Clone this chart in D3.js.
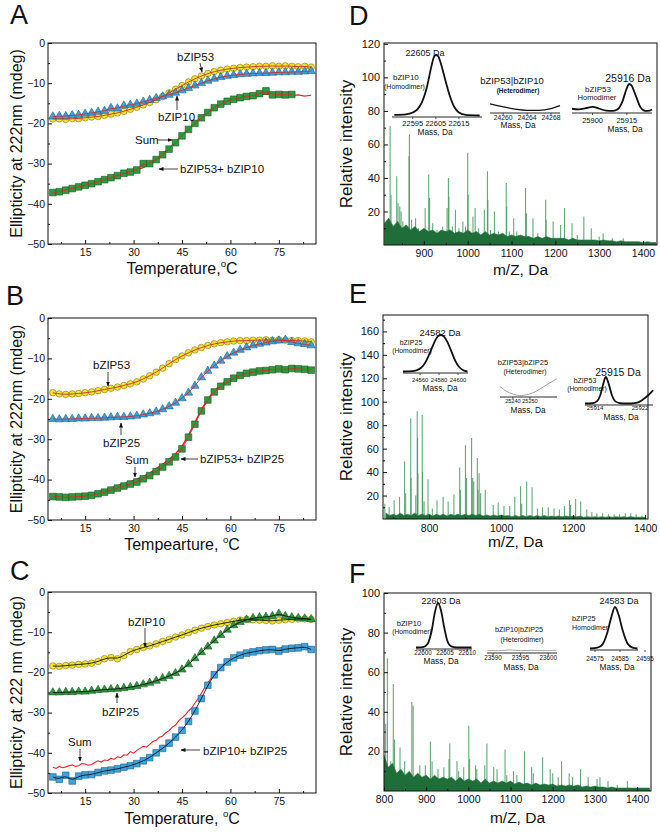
<!DOCTYPE html>
<html><head><meta charset="utf-8">
<script src="https://cdn.jsdelivr.net/npm/d3@7"></script>
<style>body{margin:0;background:#fff;} text{font-family:"Liberation Sans",Arial,Helvetica,sans-serif;}</style>
</head><body><script>
// ---------------- CD data (temperature, °C ; ellipticity, mdeg) ----------------
const TEMPS = [5,7,9,11,13,15,17,19,21,23,25,27,29,31,33,35,37,39,41,43,45,47,49,51,53,55,57,59,61,63,65,67,69,71,73,75,77,79,81,83,85];
const TEMPS1 = [5,6,7,8,9,10,11,12,13,14,15,16,17,18,19,20,21,22,23,24,25,26,27,28,29,30,31,32,33,34,35,36,37,38,39,40,41,42,43,44,45,46,47,48,49,50,51,52,53,54,55,56,57,58,59,60,61,62,63,64,65,66,67,68,69,70,71,72,73,74,75,76,77,78,79,80,81,82,83,84,85];
const CD_XTICKS = [15,30,45,60,75];
const CD_XMINOR = [7.5,22.5,37.5,52.5,67.5,82.5];
const CD_YTICKS = [0,-10,-20,-30,-40,-50];
const CD_YMINOR = [-5,-15,-25,-35,-45];

const A_bZIP53 = [-18.9,-18.9,-19.0,-18.8,-18.8,-18.6,-18.4,-18.3,-18.0,-17.7,-17.4,-17.0,-16.5,-16.0,-15.4,-14.8,-14.1,-13.3,-12.4,-11.5,-10.6,-9.7,-8.9,-8.2,-7.6,-7.1,-6.8,-6.5,-6.3,-6.1,-6.0,-5.9,-5.8,-5.8,-5.7,-5.8,-5.7,-5.8,-5.9,-5.8,-6.0];
const A_bZIP10 = [-18.3,-18.2,-18.2,-18.0,-17.9,-17.6,-17.4,-17.1,-16.9,-16.2,-16.3,-15.6,-15.4,-15.1,-14.6,-14.2,-13.7,-13.3,-12.9,-12.4,-11.8,-11.2,-10.6,-10.0,-9.4,-8.9,-8.5,-8.2,-8.0,-7.8,-7.7,-7.6,-7.5,-7.5,-7.4,-7.3,-7.3,-7.2,-7.2,-7.1,-7.0];
const A_mix = [-37.2,-37.0,-36.6,-36.2,-35.8,-35.4,-35.0,-34.5,-34.0,-33.5,-33.0,-32.4,-32.1,-31.6,-30.0,-30.0,-29.0,-27.8,-26.4,-24.8,-23.1,-21.5,-20.0,-18.6,-17.3,-16.1,-15.2,-14.5,-14.0,-13.6,-13.3,-13.1,-12.6,-11.9,-12.9,-12.8,-12.9,-12.8];
const A_sum = [-37.0,-37.1,-36.5,-36.4,-35.9,-35.6,-35.1,-34.7,-34.1,-33.7,-33.1,-32.6,-32.2,-31.5,-31.0,-30.1,-28.9,-27.6,-26.2,-24.6,-23.0,-21.3,-19.9,-18.4,-17.2,-16.0,-15.1,-14.3,-13.9,-13.5,-13.2,-13.0,-12.9,-12.7,-12.8,-13.0,-12.8,-13.1,-12.9,-13.2,-13.0];

const B_bZIP53 = [-18.5,-18.8,-18.9,-18.8,-18.7,-18.5,-18.3,-18.0,-17.7,-17.4,-17.1,-16.7,-16.3,-15.8,-15.1,-14.3,-13.4,-12.4,-11.3,-10.3,-9.4,-8.6,-7.9,-7.3,-6.8,-6.4,-6.1,-5.9,-5.7,-5.6,-5.6,-5.5,-5.5,-5.4,-5.5,-5.4,-5.5,-5.6,-5.6,-5.7,-5.9];
const B_bZIP25 = [-25.0,-25.1,-25.0,-25.0,-24.9,-24.9,-24.8,-24.8,-24.7,-24.6,-24.5,-24.5,-24.4,-24.2,-23.9,-23.6,-23.2,-22.6,-21.9,-21.0,-19.9,-18.5,-16.8,-14.7,-13.1,-11.8,-10.6,-9.5,-8.6,-7.9,-7.3,-6.8,-6.4,-6.1,-5.8,-5.6,-5.4,-6.0,-6.3,-6.5,-6.8];
const B_mix = [-44.2,-44.3,-44.4,-44.3,-44.2,-44.1,-43.9,-43.5,-43.1,-42.6,-42.1,-41.6,-41.1,-40.6,-39.8,-39.0,-38.0,-36.9,-35.6,-34.4,-32.4,-29.5,-26.3,-23.0,-20.3,-18.3,-16.9,-15.8,-14.9,-14.2,-13.7,-13.4,-13.1,-13.0,-12.8,-12.6,-12.8,-12.5,-12.6,-12.7,-12.9];
const B_sum = [-44.0,-44.2,-44.1,-44.3,-43.9,-43.9,-43.6,-43.2,-42.7,-42.1,-41.5,-41.0,-40.5,-39.9,-39.2,-38.4,-37.3,-36.2,-35.0,-33.6,-31.8,-29.0,-25.9,-22.7,-20.1,-18.0,-16.6,-15.5,-14.7,-14.0,-13.5,-13.2,-12.9,-12.8,-12.4,-12.6,-12.3,-12.6,-12.5,-12.8,-12.7];

const C_bZIP10 = [-18.4,-18.5,-18.3,-18.2,-18.0,-17.9,-17.7,-17.3,-16.6,-16.3,-16.6,-15.8,-14.8,-14.3,-13.8,-13.4,-12.9,-12.3,-11.8,-11.2,-10.7,-10.1,-9.5,-9.0,-8.6,-8.2,-7.9,-7.6,-7.3,-7.0,-6.8,-6.9,-7.0,-7.1,-7.2,-7.0,-6.9,-6.8,-6.7,-6.7,-6.8];
const C_bZIP25 = [-25.0,-25.0,-24.9,-24.9,-24.8,-24.8,-24.6,-24.4,-24.3,-24.2,-24.1,-23.9,-23.7,-23.4,-23.0,-22.6,-22.1,-21.5,-20.9,-20.2,-19.3,-18.0,-16.5,-15.0,-13.6,-12.1,-10.7,-9.4,-8.3,-7.5,-6.9,-6.5,-6.3,-6.2,-6.0,-5.4,-6.0,-6.3,-6.5,-6.6,-6.8];
const C_mix = [-46.0,-46.6,-45.6,-47.0,-45.8,-45.5,-45.4,-44.9,-44.5,-44.3,-44.0,-43.6,-43.2,-42.7,-42.0,-41.2,-40.0,-38.9,-37.6,-36.1,-34.4,-32.2,-29.6,-26.5,-23.2,-20.6,-18.8,-17.4,-16.4,-15.7,-15.2,-14.9,-14.6,-14.4,-14.3,-14.7,-14.2,-14.0,-13.9,-13.6,-14.3];
const C_sum = [-43.6,-43.9,-43.4,-43.7,-43.5,-43.2,-43.0,-43.4,-43.2,-42.7,-42.8,-43.1,-42.9,-42.4,-42.0,-42.3,-41.8,-41.9,-41.4,-41.6,-41.0,-41.2,-40.5,-40.6,-39.7,-40.1,-39.4,-38.9,-38.4,-38.6,-37.9,-37.2,-36.9,-36.1,-35.8,-35.0,-34.5,-33.6,-33.1,-32.0,-31.3,-30.6,-29.6,-28.9,-27.6,-26.5,-25.2,-23.8,-22.6,-21.5,-20.4,-19.5,-18.7,-17.9,-17.3,-16.6,-16.2,-15.9,-15.5,-15.2,-15.0,-14.8,-14.7,-14.5,-14.4,-14.6,-14.2,-13.9,-13.6,-14.2,-14.1,-13.7,-13.9,-14.0,-13.5,-13.8,-13.8,-13.4,-13.2,-13.7,-13.6];

// ---------------- Mass spectra: [m/z, relative intensity] ----------------
const D_peaks = [[823,71],[825,30],[838,41],[841,25],[845,23],[848,20],[852,14],[858,12],[866,53],[867,66],[872,15],[881,16],[888,10],[903,22],[911,42],[913,28],[920,13],[930,9],[943,11],[953,22],[956,40],[957,29],[965,11],[972,21],[980,10],[989,14],[995,11],[1000,55],[1001,30],[1012,17],[1017,22],[1025,10],[1038,21],[1045,44],[1046,27],[1052,9],[1061,20],[1070,8],[1088,37],[1089,23],[1095,8],[1105,16],[1112,8],[1132,34],[1134,19],[1149,16],[1160,7],[1178,27],[1179,15],[1195,14],[1212,12],[1221,22],[1238,13],[1250,6],[1265,17],[1282,10],[1300,5],[1309,7],[1330,4],[1355,4]];
const D_noise = [[810,13],[820,16],[830,11],[840,14],[850,10],[860,12],[870,9],[880,11],[890,8],[900,10],[910,8],[920,9],[930,7],[940,9],[950,8],[960,9],[970,7],[980,8],[990,7],[1000,9],[1010,7],[1020,8],[1030,6],[1040,8],[1050,6],[1060,7],[1070,6],[1080,7],[1090,5],[1100,6],[1110,5],[1120,6],[1130,5],[1140,5],[1150,4],[1160,5],[1170,4],[1180,5],[1190,4],[1200,4],[1210,4],[1220,4],[1230,3],[1240,4],[1250,3],[1260,3],[1270,3],[1280,3],[1290,3],[1300,2.5],[1310,3],[1320,2.5],[1330,2.5],[1340,2],[1350,2.5],[1360,2],[1370,2],[1380,2],[1390,2],[1400,1.5],[1410,2],[1420,1.5],[1430,1.5]];
const E_peaks = [[677,13],[689,10],[703,16],[718,19],[732,49],[735,22],[749,86],[750,35],[763,20],[767,92],[768,69],[769,39],[781,89],[782,40],[786,15],[797,34],[809,9],[822,16],[839,19],[853,15],[869,21],[885,44],[887,25],[901,63],[904,35],[918,69],[921,35],[924,32],[934,52],[936,25],[939,39],[943,22],[956,25],[978,12],[992,14],[1008,11],[1024,11],[1038,19],[1054,28],[1057,13],[1071,32],[1086,27],[1101,9],[1115,10],[1131,10],[1147,9],[1162,8],[1176,11],[1190,16],[1193,12],[1207,17],[1221,15],[1238,8],[1252,6],[1266,5],[1282,5],[1298,4],[1314,4],[1329,4],[1345,5],[1360,5],[1375,4],[1391,3]];
const E_noise = [[680,5],[690,3],[700,4],[710,3],[720,5],[730,3],[740,4],[750,3],[760,5],[770,3],[780,4],[790,3],[800,4],[810,2.5],[820,4],[830,3],[840,4],[850,2.5],[860,4],[870,3],[880,4],[890,3],[900,4],[910,3],[920,4],[930,3],[940,4],[950,2.5],[960,3.5],[970,2.5],[980,3.5],[990,2.5],[1000,3.5],[1010,2.5],[1020,3],[1030,2],[1040,3],[1050,2],[1060,3],[1070,2],[1080,3],[1090,2],[1100,3],[1110,2],[1120,3],[1130,2],[1140,2.5],[1150,2],[1160,2.5],[1170,2],[1180,2.5],[1190,2],[1200,2.5],[1210,2],[1220,2.5],[1230,1.5],[1240,2],[1250,1.5],[1260,2],[1270,1.5],[1280,2],[1290,1.5],[1300,2],[1310,1.5],[1320,2],[1330,1.5],[1340,2],[1350,1.5],[1360,2],[1370,1.5],[1380,1.5],[1390,1.5],[1400,1.5]];
const F_peaks = [[804,34],[808,67],[816,15],[822,54],[825,26],[838,22],[849,15],[866,45],[869,43],[885,13],[898,13],[910,25],[914,15],[928,11],[942,12],[954,16],[956,24],[973,15],[977,10],[989,12],[1001,33],[1003,16],[1017,13],[1020,11],[1039,13],[1044,24],[1060,12],[1068,11],[1087,21],[1091,8],[1107,10],[1115,8],[1133,20],[1150,12],[1154,9],[1176,17],[1194,11],[1200,9],[1213,7],[1221,15],[1239,9],[1247,7],[1266,11],[1284,7],[1305,6],[1312,7],[1331,5],[1353,3],[1377,5]];
const F_noise = [[800,18],[810,12],[820,14],[830,9],[840,11],[850,8],[860,10],[870,7],[880,9],[890,7],[900,8],[910,6],[920,8],[930,6],[940,7],[950,6],[960,7],[970,5],[980,7],[990,5],[1000,6],[1010,5],[1020,6],[1030,4],[1040,6],[1050,4],[1060,5],[1070,4],[1080,5],[1090,4],[1100,5],[1110,3.5],[1120,4.5],[1130,3.5],[1140,4],[1150,3],[1160,4],[1170,3],[1180,3.5],[1190,3],[1200,3.5],[1210,2.5],[1220,3],[1230,2.5],[1240,3],[1250,2.5],[1260,3],[1270,2],[1280,2.5],[1290,2],[1300,2.5],[1310,2],[1320,2],[1330,1.5],[1340,2],[1350,1.5],[1360,1.5],[1370,1.5],[1380,1.5],[1390,1.5],[1400,1.5],[1410,1.5],[1420,1.5],[1430,1.5]];

// ---------------- Deconvoluted inset curves (mass, Da ; relative height) ----------------
const D1_mass = [22587,22592,22595,22597,22599,22601,22603,22604,22605,22606,22607,22609,22611,22613,22615,22618,22624];
const D1_int  = [0.01,0.02,0.05,0.1,0.22,0.45,0.8,0.95,1.0,0.98,0.88,0.6,0.33,0.14,0.05,0.01,0.0];
const D2_mass = [24257.8,24259,24260,24262,24264,24266,24268,24269.5];
const D2_int  = [0.13,0.1,0.08,0.04,0.02,0.02,0.05,0.1];
const D3_mass = [25891,25894,25897,25900,25903,25906,25909,25911,25913,25915,25916,25917,25919,25921,25923,25925,25926];
const D3_int  = [0.1,0.08,0.12,0.17,0.1,0.03,0.02,0.08,0.35,0.85,1.0,0.95,0.55,0.15,0.02,0.03,0.07];
const E1_mass = [24542,24552,24558,24563,24567,24571,24575,24579,24582,24585,24589,24593,24597,24601,24605,24610];
const E1_int  = [0,0.01,0.05,0.15,0.32,0.55,0.8,0.97,1.0,0.96,0.8,0.55,0.3,0.13,0.04,0];
const E2_mass = [25232.5,25236,25240,25244,25248,25252,25256,25260,25263,25265.9];
const E2_int  = [0.24,0.12,0.04,0.0,0.02,0.08,0.18,0.3,0.38,0.46];
const E3_mass = [25912.2,25913.5,25914.3,25914.9,25915.4,25915.9,25916.4,25917,25917.6,25918.5,25919.5,25920.5,25921.5,25922.5,25923.5,25924.3];
const E3_int  = [0,0.01,0.08,0.3,0.7,1.0,0.75,0.3,0.08,0.01,0,0,0.03,0.15,0.32,0.5];
const F1_mass = [22598.4,22600,22601,22602,22602.7,22603.4,22604.1,22604.8,22605.5,22606.3,22607.5,22611];
const F1_int  = [0,0.01,0.08,0.4,0.8,1.0,0.82,0.45,0.15,0.03,0,0];
const F2_mass = [23589,23591,23593,23595,23597,23599,23601.5];
const F2_int  = [0.03,0.02,0.04,0.02,0.03,0.02,0.03];
const F3_mass = [24573,24576,24578,24580,24581.5,24583,24584.5,24586,24588,24590,24592];
const F3_int  = [0,0.02,0.1,0.4,0.75,1.0,0.8,0.45,0.12,0.02,0];

// ---------------- drawing ----------------
const FONT = '"Liberation Sans",Arial,Helvetica,sans-serif';
const svg = d3.select("body").append("svg").attr("width",660).attr("height",833).style("display","block");
svg.append("rect").attr("width",660).attr("height",833).attr("fill","#fff");
const defs = svg.append("defs");
defs.append("marker").attr("id","arr").attr("viewBox","0 0 10 10").attr("refX",9).attr("refY",5)
  .attr("markerWidth",5).attr("markerHeight",5).attr("markerUnits","userSpaceOnUse").attr("orient","auto")
  .append("path").attr("d","M0,1L10,5L0,9z").attr("fill","#111");

function txt(g,x,y,s,size,opt={}){
  const t=g.append("text").attr("x",x).attr("y",y).attr("font-size",size).attr("fill",opt.fill||"#111").text(s);
  if(opt.anchor) t.attr("text-anchor",opt.anchor);
  if(opt.weight) t.attr("font-weight",opt.weight);
  return t;
}
function degTitle(g,x,y,base,size){
  const t=g.append("text").attr("x",x).attr("y",y).attr("font-size",size).attr("text-anchor","middle").attr("fill","#111");
  t.append("tspan").text(base);
  t.append("tspan").attr("font-size",size*0.6).attr("dy",-size*0.45).text("o");
  t.append("tspan").attr("dy",size*0.45).text("C");
}
function styleAxis(sel,fs){
  sel.attr("font-family",FONT).attr("font-size",fs);
  sel.select(".domain").remove();
  sel.selectAll("line").attr("stroke","#111");
  sel.selectAll("text").attr("fill","#111");
}
function frame(g,x0,y0,x1,y1){
  g.append("rect").attr("x",x0).attr("y",y0).attr("width",x1-x0).attr("height",y1-y0)
    .attr("fill","none").attr("stroke","#111").attr("stroke-width",1);
}

const STY = {
  yellow:{fill:"#f3e32e",stroke:"#857614"},
  blue:{fill:"#3ba3dd",stroke:"#1f5f8c"},
  green:{fill:"#2f9a3b",stroke:"#185a22"}
};

function cdPanel(p){
  const g=svg.append("g");
  const L=48,R=316;
  const x=d3.scaleLinear().domain([3.5,86.5]).range([L,R]);
  const y=d3.scaleLinear().domain([-50,0]).range([p.bottom,p.top]);
  const clipId="clip"+p.letter;
  defs.append("clipPath").attr("id",clipId).append("rect").attr("x",L).attr("y",p.top).attr("width",R-L).attr("height",p.bottom-p.top);
  const pg=g.append("g").attr("clip-path",`url(#${clipId})`);

  const ln=d3.line().x(d=>x(d[0])).y(d=>y(d[1]));
  pg.append("path").datum(d3.zip(p.sumT,p.sum)).attr("d",ln).attr("fill","none").attr("stroke","#e3232a").attr("stroke-width",p.sumW);

  const sym=(type,size)=>d3.symbol().type(type).size(size)();
  function markers(vals,type,size,st){
    pg.append("g").selectAll("path").data(d3.zip(TEMPS,vals)).join("path")
      .attr("transform",d=>`translate(${x(d[0])},${y(d[1])})`).attr("d",sym(type,size))
      .attr("fill",st.fill).attr("stroke",st.stroke).attr("stroke-width",0.6);
  }
  markers(p.circ,d3.symbolCircle,34,STY.yellow);
  markers(p.tri,d3.symbolTriangle,30,p.triSty);
  markers(p.sq,d3.symbolSquare,44,p.sqSty);

  const fit=d3.line().x(d=>x(d[0])).y(d=>y(d[1])).curve(d3.curveBasis);
  [p.circ,p.tri,p.sq].forEach(v=>{
    pg.append("path").datum(d3.zip(TEMPS,v)).attr("d",fit).attr("fill","none").attr("stroke",p.fitColor).attr("stroke-width",0.9);
  });

  styleAxis(g.append("g").attr("transform",`translate(0,${p.bottom})`).call(d3.axisBottom(x).tickValues(CD_XTICKS).tickSize(-4).tickPadding(5)),10.5);
  styleAxis(g.append("g").attr("transform",`translate(0,${p.bottom})`).call(d3.axisBottom(x).tickValues(CD_XMINOR).tickSize(-2).tickFormat("")),10);
  styleAxis(g.append("g").attr("transform",`translate(${L},0)`).call(d3.axisLeft(y).tickValues(CD_YTICKS).tickSize(-4).tickPadding(3)),10.5);
  styleAxis(g.append("g").attr("transform",`translate(${L},0)`).call(d3.axisLeft(y).tickValues(CD_YMINOR).tickSize(-2).tickFormat("")),10);
  frame(g,L,p.top,R,p.bottom);

  txt(g,p.letX,p.letY,p.letter,27);
  g.append("text").attr("transform",`translate(22,${(p.top+p.bottom)/2}) rotate(-90)`).attr("text-anchor","middle")
    .attr("font-size",16).attr("fill","#111").text(p.ytitle);
  degTitle(g,182,p.xtY,p.xtitle,16);

  p.notes.forEach(n=>{
    txt(g,n.x,n.y,n.s,11.5);
    g.append("line").attr("x1",n.l[0]).attr("y1",n.l[1]).attr("x2",n.l[2]).attr("y2",n.l[3])
      .attr("stroke","#111").attr("stroke-width",0.8).attr("marker-end","url(#arr)");
  });
}

cdPanel({letter:"A",letX:10,letY:24,top:43,bottom:244,
  circ:A_bZIP53,tri:A_bZIP10,sq:A_mix,sum:A_sum,sumT:TEMPS,sumW:1.2,
  triSty:STY.blue,sqSty:STY.green,fitColor:"#d42a2c",
  ytitle:"Ellipticity at 222nm (mdeg)",xtitle:"Temperature,",xtY:274,
  notes:[{s:"bZIP53",x:177,y:61,l:[200,63,202,72]},
         {s:"bZIP10",x:158,y:121,l:[177,110,177,96]},
         {s:"Sum",x:135,y:144,l:[157,140,172,140]},
         {s:"bZIP53+ bZIP10",x:180,y:173,l:[178,169,159,169]}]});

cdPanel({letter:"B",letX:6,letY:305,top:318,bottom:520,
  circ:B_bZIP53,tri:B_bZIP25,sq:B_mix,sum:B_sum,sumT:TEMPS,sumW:1.4,
  triSty:STY.blue,sqSty:STY.green,fitColor:"#d42a2c",
  ytitle:"Ellipticity at 222nm (mdeg)",xtitle:"Tempearture, ",xtY:550,
  notes:[{s:"bZIP53",x:93,y:369,l:[108,372,108,386]},
         {s:"bZIP25",x:103,y:447,l:[121,435,121,423]},
         {s:"Sum",x:125,y:464,l:[135,467,135,477]},
         {s:"bZIP53+ bZIP25",x:200,y:463,l:[198,459,181,459]}]});

cdPanel({letter:"C",letX:10,letY:580,top:592,bottom:793,
  circ:C_bZIP10,tri:C_bZIP25,sq:C_mix,sum:C_sum,sumT:TEMPS1,sumW:1.1,
  triSty:STY.green,sqSty:STY.blue,fitColor:"#111",
  ytitle:"Ellipticity at 222 nm (mdeg)",xtitle:"Temperature, ",xtY:824,
  notes:[{s:"bZIP10",x:128,y:626,l:[145,628,145,647]},
         {s:"bZIP25",x:102,y:716,l:[117,703,117,693]},
         {s:"Sum",x:68,y:746,l:[80,749,80,761]},
         {s:"bZIP10+ bZIP25",x:203,y:755,l:[200,750,181,750]}]});

// ---------------- spectra ----------------
function inset(g,s){
  const x=d3.scaleLinear().domain(s.dom).range([s.x0,s.x1]);
  const y=d3.scaleLinear().domain([0,1]).range([s.base-1.5,s.top]);
  g.append("line").attr("x1",s.x0).attr("x2",s.x1).attr("y1",s.base).attr("y2",s.base).attr("stroke","#111").attr("stroke-width",0.9);
  s.ticks.forEach(t=>{
    g.append("line").attr("x1",x(t)).attr("x2",x(t)).attr("y1",s.base).attr("y2",s.base+2).attr("stroke","#111").attr("stroke-width",0.7);
    txt(g,x(t),s.tickY,String(t),s.tickFs,{anchor:"middle"});
  });
  g.append("path").datum(d3.zip(s.mass,s.inten)).attr("d",d3.line().x(d=>x(d[0])).y(d=>y(d[1])).curve(d3.curveMonotoneX))
    .attr("fill","none").attr("stroke",s.color||"#111").attr("stroke-width",s.w||1.8);
  txt(g,s.massX,s.massY,"Mass, Da",s.massFs||8.3,{anchor:"middle"});
  s.texts.forEach(t=>txt(g,t[0],t[1],t[2],t[3],{anchor:t[4]||"middle",weight:t[5]}));
}

function specPanel(p){
  const g=svg.append("g");
  const x=d3.scaleLinear().domain(p.xdom).range([p.left,p.right]);
  const y=d3.scaleLinear().domain([0,p.ymax]).range([p.bottom,p.top]);
  const clipId="clip"+p.letter;
  defs.append("clipPath").attr("id",clipId).append("rect").attr("x",p.left).attr("y",p.top).attr("width",p.right-p.left).attr("height",p.bottom-p.top);
  const pg=g.append("g").attr("clip-path",`url(#${clipId})`);
  pg.append("g").selectAll("line").data(p.peaks).join("line")
    .attr("x1",d=>x(d[0])).attr("x2",d=>x(d[0])).attr("y1",p.bottom).attr("y2",d=>y(d[1]))
    .attr("stroke","#4a9a63").attr("stroke-width",1.1).attr("opacity",0.85);
  pg.append("path").datum(p.noise).attr("d",d3.area().x(d=>x(d[0])).y0(p.bottom).y1(d=>y(d[1])))
    .attr("fill","#1f6d39").attr("stroke","#2a7a45").attr("stroke-width",0.6);

  const fmt=d3.format("d");
  styleAxis(g.append("g").attr("transform",`translate(0,${p.bottom})`).call(d3.axisBottom(x).tickValues(p.xt).tickFormat(fmt).tickSize(-4).tickPadding(p.xpad)),10.5);
  styleAxis(g.append("g").attr("transform",`translate(0,${p.bottom})`).call(d3.axisBottom(x).tickValues(p.xm).tickSize(-2).tickFormat("")),10);
  styleAxis(g.append("g").attr("transform",`translate(${p.left},0)`).call(d3.axisLeft(y).tickValues(p.yt).tickFormat(fmt).tickSize(-4).tickPadding(4)),11);
  styleAxis(g.append("g").attr("transform",`translate(${p.left},0)`).call(d3.axisLeft(y).tickValues(p.ym).tickSize(-2).tickFormat("")),10);
  frame(g,p.left,p.top,p.right,p.bottom);

  txt(g,p.letX,p.letY,p.letter,27);
  g.append("text").attr("transform",`translate(352,${(p.top+p.bottom)/2}) rotate(-90)`).attr("text-anchor","middle")
    .attr("font-size",17).attr("fill","#111").text("Relative intensity");
  txt(g,(p.left+p.right)/2,p.xtY,"m/Z, Da",15.5,{anchor:"middle"});
  p.insets.forEach(s=>inset(g,s));
}

specPanel({letter:"D",letX:349,letY:25,left:384,right:657,top:43,bottom:245,xdom:[809,1432],ymax:120.5,
  peaks:D_peaks,noise:D_noise,xt:[900,1000,1100,1200,1300,1400],xm:[850,950,1050,1150,1250,1350],xpad:5,
  yt:[20,40,60,80,100,120],ym:[10,30,50,70,90,110],xtY:275,
  insets:[
    {x0:392,x1:482,base:117,top:55,dom:[22586,22625],mass:D1_mass,inten:D1_int,ticks:[22595,22605,22615],tickY:126,tickFs:7.5,massX:435,massY:135,
     texts:[[425,56,"22605 Da",9],[393,80,"bZIP10",8,"start"],[384,89,"(Homodimer)",7,"start"]]},
    {x0:490,x1:560,base:113,top:53,dom:[24257.8,24269.5],mass:D2_mass,inten:D2_int,ticks:[24260,24264,24268],tickY:119.5,tickFs:6.8,massX:518,massY:128,w:1.2,
     texts:[[512,84,"bZIP53|bZIP10",9.5],[518,93,"(Heterodimer)",6.5,"middle","bold"]]},
    {x0:572,x1:652,base:113,top:84,dom:[25891,25926],mass:D3_mass,inten:D3_int,ticks:[25900,25915],tickY:123,tickFs:7.5,massX:625,massY:132,
     texts:[[628,82,"25916 Da",10.5],[598,92,"bZIP53",8],[597,100,"Homodimer",7.5]]}
  ]});

specPanel({letter:"E",letX:349,letY:303,left:383,right:648,top:315,bottom:519,xdom:[672,1408],ymax:174,
  peaks:E_peaks,noise:E_noise,xt:[800,1000,1200,1400],xm:[700,900,1100,1300],xpad:6,
  yt:[20,40,60,80,100,120,140,160],ym:[10,30,50,70,90,110,130,150,170],xtY:547,
  insets:[
    {x0:403,x1:468,base:373,top:335,dom:[24542,24610.5],mass:E1_mass,inten:E1_int,ticks:[24560,24580,24600],tickY:382,tickFs:5.9,massX:440,massY:391,
     texts:[[440,336,"24582 Da",9.5],[411,345,"bZIP25",7],[412,353,"(Homodimer)",6.8]]},
    {x0:500,x1:557,base:397,top:359,dom:[25232.4,25265.9],mass:E2_mass,inten:E2_int,ticks:[25240,25250],tickY:403,tickFs:5.6,massX:528,massY:413,color:"#9a9a9a",w:0.9,
     texts:[[523,365,"bZIP53|bZIP25",7.5],[525,374,"(Heterodimer)",7]]},
    {x0:585,x1:653,base:405,top:377,dom:[25912.2,25924.3],mass:E3_mass,inten:E3_int,ticks:[25914,25922],tickY:410,tickFs:6,massX:621,massY:420,
     texts:[[618,376,"25915 Da",10.5],[585,383,"bZIP53",7],[587,391,"(Homodimer)",6.8]]}
  ]});

specPanel({letter:"F",letX:349,letY:583,left:384,right:651,top:593,bottom:791,xdom:[800,1433],ymax:100,
  peaks:F_peaks,noise:F_noise,xt:[800,900,1000,1100,1200,1300,1400],xm:[850,950,1050,1150,1250,1350],xpad:5,
  yt:[20,40,60,80,100],ym:[10,30,50,70,90],xtY:823,
  insets:[
    {x0:416,x1:472,base:649,top:603,dom:[22598.4,22611.1],mass:F1_mass,inten:F1_int,ticks:[22600,22605,22610],tickY:655,tickFs:6.3,massX:441,massY:664,
     texts:[[441,604,"22603 Da",9],[409,626,"bZIP10",7.6],[412,634,"(Homodimer)",6.8]]},
    {x0:487,x1:557,base:653,top:611,dom:[23588.9,23601.6],mass:F2_mass,inten:F2_int,ticks:[23590,23595,23600],tickY:660,tickFs:6.3,massX:521,massY:670,color:"#9a9a9a",w:0.9,
     texts:[[519,632,"bZIP10|bZIP25",7.2],[522,642,"(Heterodimer)",7]]},
    {x0:590,x1:638,base:650,top:607,dom:[24573,24592.2],mass:F3_mass,inten:F3_int,ticks:[24575,24585,24595],tickY:661,tickFs:6.3,massX:617,massY:670,
     texts:[[619,604,"24583 Da",9],[572,621,"bZIP25",7.3,"start"],[572,630,"Homodimer",7,"start"]]}
  ]});
</script></body></html>
